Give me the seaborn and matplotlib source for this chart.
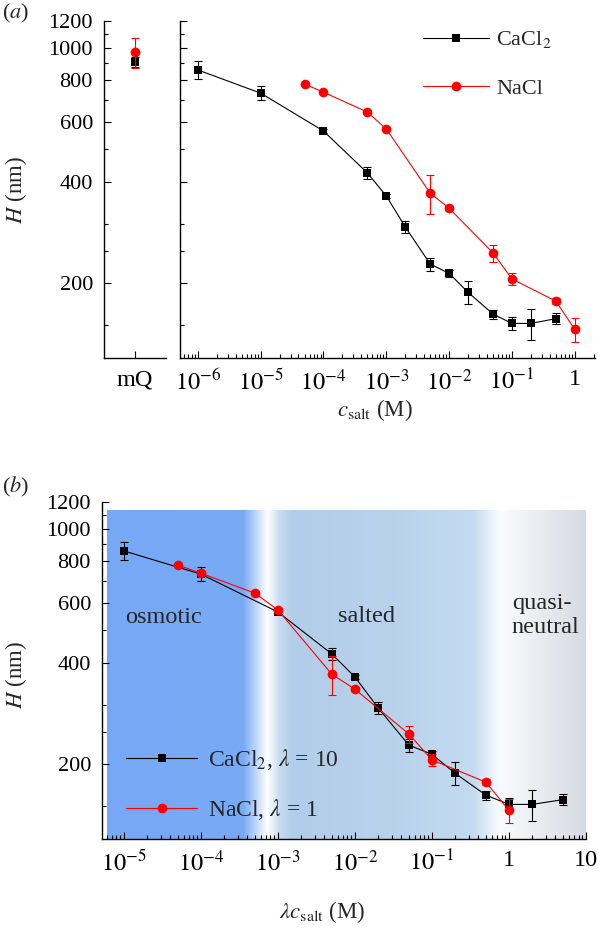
import numpy as np
import matplotlib
matplotlib.use('Agg')
import matplotlib.pyplot as plt
import seaborn as sns
from matplotlib.ticker import FixedLocator, FixedFormatter, NullFormatter, LogLocator

# values
cacl2_c = [1e-6, 1e-5, 1e-4, 5e-4, 1e-3, 2e-3, 5e-3, 1e-2, 2e-2, 5e-2, 0.1, 0.2, 0.5]
cacl2_h = [859, 733, 566, 425, 363, 294, 228, 214, 188, 162, 152, 152, 157]
cacl2_err = [52, 35, 6, 17, 5, 13, 10, 5, 15, 5, 7, 16, 6]

nacl_c = [5e-5, 1e-4, 5e-4, 1e-3, 5e-3, 1e-2, 5e-2, 0.1, 0.5, 1]
nacl_h = [780, 738, 644, 574, 370, 334, 246, 206, 177, 146]
nacl_err = [5, 5, 6, 6, 50, 5, 14, 8, 4, 12]

mq_cacl2_h, mq_cacl2_err = 906, 30
mq_nacl_h, mq_nacl_err = 970, 100

lam_cacl2 = 10
lam_nacl = 1

h_major = [200, 400, 600, 800, 1000, 1200]
h_minor = [150, 250, 300, 500, 700, 900, 1100]

xa_ticks = [1e-6, 1e-5, 1e-4, 1e-3, 1e-2, 1e-1, 1]
xa_labels = ['$10^{-6}$', '$10^{-5}$', '$10^{-4}$', '$10^{-3}$', '$10^{-2}$', '$10^{-1}$', '1']
xb_ticks = [1e-5, 1e-4, 1e-3, 1e-2, 1e-1, 1, 10]
xb_labels = ['$10^{-5}$', '$10^{-4}$', '$10^{-3}$', '$10^{-2}$', '$10^{-1}$', '1', '10']

sns.set_theme(style='ticks')
plt.rcParams['font.family'] = ['Liberation Serif', 'DejaVu Serif']
plt.rcParams['mathtext.fontset'] = 'stix'
plt.rcParams['axes.linewidth'] = 1.0

W, H = 598, 931
fig = plt.figure(figsize=(W / 100, H / 100), dpi=100)


def rect(x0, y0, x1, y1):
    # pixel box -> figure fraction
    return [x0 / W, 1 - y1 / H, (x1 - x0) / W, (y1 - y0) / H]


def style_axis(ax):
    ax.set_yscale('log')
    ax.set_ylim(120, 1200)
    ax.yaxis.set_major_locator(FixedLocator(h_major))
    ax.yaxis.set_major_formatter(FixedFormatter([str(v) for v in h_major]))
    ax.yaxis.set_minor_locator(FixedLocator(h_minor))
    ax.yaxis.set_minor_formatter(NullFormatter())
    ax.tick_params(which='both', direction='in', width=0.8, colors='black')
    ax.tick_params(which='major', length=5, pad=8)
    ax.tick_params(which='minor', length=3)
    ax.tick_params(axis='y', labelsize=16)
    ax.tick_params(axis='x', labelsize=17.5)
    for s in ['left', 'bottom']:
        ax.spines[s].set_color('black')
    sns.despine(ax=ax)


def log_x(ax, ticks, labels, lims):
    ax.set_xscale('log')
    ax.set_xlim(*lims)
    ax.xaxis.set_major_locator(FixedLocator(ticks))
    ax.xaxis.set_major_formatter(FixedFormatter(labels))
    ax.xaxis.set_minor_locator(LogLocator(base=10, subs=np.arange(2, 10), numticks=100))
    ax.xaxis.set_minor_formatter(NullFormatter())


def draw_series(ax, c, h, err, color, marker, ms, label):
    ax.errorbar(c, h, yerr=err, fmt='none', ecolor=color, elinewidth=0.8,
                capsize=2.8, capthick=0.8)
    sns.lineplot(x=c, y=h, ax=ax, color=color, marker=marker, markersize=ms,
                 markeredgecolor=color, markeredgewidth=0, linewidth=0.8,
                 label=label, sort=False)


# ---------- panel (a): mQ ----------
ax0 = fig.add_axes(rect(104, 21, 166, 358))
ax0.errorbar([0], [mq_cacl2_h], yerr=[mq_cacl2_err], fmt='none', ecolor='black',
             elinewidth=0.8, capsize=2.8, capthick=0.8)
ax0.errorbar([0], [mq_nacl_h], yerr=[mq_nacl_err], fmt='none', ecolor='red',
             elinewidth=0.8, capsize=2.8, capthick=0.8)
sns.scatterplot(x=[0], y=[mq_cacl2_h], ax=ax0, marker='s', s=40, color='black', linewidth=0)
sns.scatterplot(x=[0], y=[mq_nacl_h], ax=ax0, marker='o', s=50, color='red', linewidth=0)
ax0.set_xlim(-1, 1)
style_axis(ax0)
ax0.set_xticks([0])
ax0.set_xticklabels(['mQ'])

# ---------- panel (a): salt ----------
ax1 = fig.add_axes(rect(180, 21, 595, 358))
draw_series(ax1, cacl2_c, cacl2_h, cacl2_err, 'black', 's', 6.3, 'CaCl$_2$')
draw_series(ax1, nacl_c, nacl_h, nacl_err, 'red', 'o', 7, 'NaCl')
style_axis(ax1)
log_x(ax1, xa_ticks, xa_labels, (5.2e-7, 2.1))
ax1.tick_params(axis='y', labelleft=False)
ax1.legend(loc='upper left', bbox_to_anchor=(0.585, 0.975), frameon=False, fontsize=16,
           handlelength=3.0, handletextpad=0.3, labelspacing=1.25, borderpad=0,
           borderaxespad=0)

fig.text(2 / W, 1 - 13 / H, '($a$)', fontsize=16, va='center', ha='left')
fig.text(16 / W, 1 - 190 / H, '$H$ (nm)', fontsize=16.5, rotation=90, ha='center', va='center')
fig.text(375 / W, 1 - 410 / H, '$c_{\\mathrm{salt}}$ (M)', fontsize=16.5, ha='center', va='center')

# ---------- panel (b): background regimes ----------
bg = fig.add_axes(rect(107, 510, 586, 839))
stops = [
    (0.000, (118, 168, 245)),
    (0.284, (120, 170, 245)),
    (0.335, (255, 255, 255)),
    (0.360, (200, 220, 240)),
    (0.388, (178, 205, 233)),
    (0.600, (185, 210, 236)),
    (0.764, (195, 218, 240)),
    (0.820, (250, 252, 254)),
    (0.850, (245, 246, 249)),
    (1.000, (214, 218, 227)),
]
pos = np.array([p for p, _ in stops])
cols = np.array([c for _, c in stops]) / 255.0
xs = np.linspace(0, 1, 600)
grad = np.stack([np.interp(xs, pos, cols[:, k]) for k in range(3)], axis=-1)
bg.imshow(grad[np.newaxis, :, :], aspect='auto', extent=[0, 1, 0, 1], interpolation='bilinear')
bg.set_axis_off()

ax2 = fig.add_axes(rect(102, 502, 586, 839))
ax2.patch.set_alpha(0)
draw_series(ax2, [c * lam_cacl2 for c in cacl2_c], cacl2_h, cacl2_err, 'black', 's', 6,
            'CaCl$_2$, $\\lambda$ = 10')
draw_series(ax2, [c * lam_nacl for c in nacl_c], nacl_h, nacl_err, 'red', 'o', 7,
            'NaCl, $\\lambda$ = 1')
style_axis(ax2)
log_x(ax2, xb_ticks, xb_labels, (5.2e-6, 10))
ax2.legend(loc='lower left', bbox_to_anchor=(0.05, 0.05), frameon=False, fontsize=17,
           handlelength=3.0, handletextpad=0.45, labelspacing=1.05, borderpad=0,
           borderaxespad=0)

ax2.text(0.0475, 0.656, 'osmotic', transform=ax2.transAxes, fontsize=17.5, va='center', ha='left')
ax2.text(0.488, 0.659, 'salted', transform=ax2.transAxes, fontsize=17.5, va='center', ha='left')
ax2.text(0.847, 0.664, 'quasi-\nneutral', transform=ax2.transAxes, fontsize=17.5,
         va='center', ha='left', linespacing=1.2)

fig.text(2 / W, 1 - 487 / H, '($b$)', fontsize=16, va='center', ha='left')
fig.text(16 / W, 1 - 675 / H, '$H$ (nm)', fontsize=16.5, rotation=90, ha='center', va='center')
fig.text(322 / W, 1 - 912 / H, '$\\lambda c_{\\mathrm{salt}}$ (M)', fontsize=16.5,
         ha='center', va='center')

fig.savefig('out.png', dpi=100)
